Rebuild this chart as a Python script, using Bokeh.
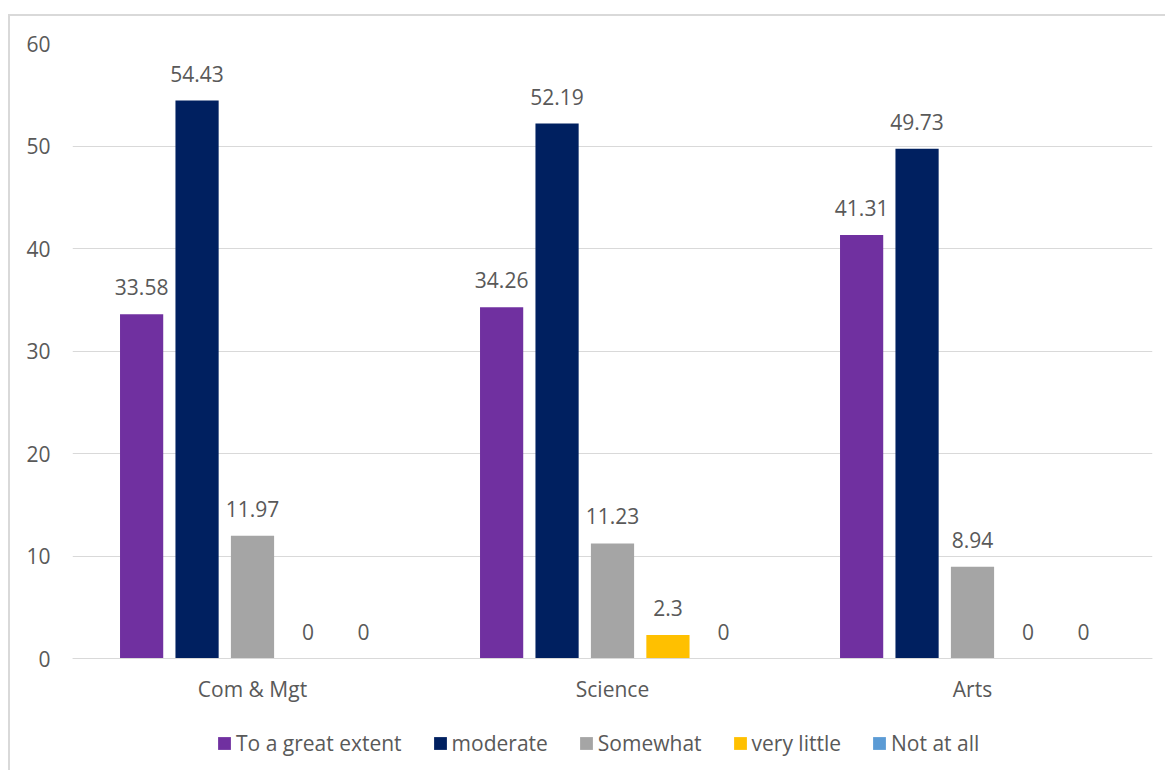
from bokeh.plotting import figure
from bokeh.models import ColumnDataSource, FactorRange, Legend, LegendItem
from bokeh.transform import dodge
from bokeh.core.properties import value
from bokeh.embed import file_html
from bokeh.resources import INLINE

categories = ["Com & Mgt", "Science", "Arts"]
series = ["To a great extent", "moderate", "Somewhat", "very little", "Not at all"]
great_extent = [33.58, 34.26, 41.31]
moderate = [54.43, 52.19, 49.73]
somewhat = [11.97, 11.23, 8.94]
very_little = [0, 2.3, 0]
not_at_all = [0, 0, 0]
y_ticks = [0, 10, 20, 30, 40, 50, 60]

colors = ["#7030A0", "#002060", "#A5A5A5", "#FFC000", "#5B9BD5"]
all_values = [great_extent, moderate, somewhat, very_little, not_at_all]
offsets = [-0.308, -0.154, 0.0, 0.154, 0.308]

FONT = "Open Sans"
TXT = "#595959"
GRID = "#d9d9d9"

# frame extends below the zero line to hold the category labels and legend
FRAME_H = 727
PX_PER_UNIT = 615 / 60
y_start = 60 - FRAME_H / PX_PER_UNIT

p = figure(x_range=FactorRange(*categories), y_range=(y_start, 60),
           frame_width=1080, frame_height=FRAME_H, output_backend="svg", toolbar_location=None,
           min_border_left=62, min_border_right=13, min_border_top=27, min_border_bottom=0)
p.styles = {"border-left": "2px solid #d9d9d9", "border-top": "2px solid #d9d9d9",
            "margin-top": "14px", "margin-left": "8px"}
p.outline_line_color = None
p.background_fill_color = "white"

items = []
for name, vals, col, off in zip(series, all_values, colors, offsets):
    src = ColumnDataSource(dict(cat=categories, val=vals, lab=[f"{v:g}" for v in vals]))
    r = p.vbar(x=dodge("cat", off, range=p.x_range), top="val", bottom=0, width=0.12, source=src,
               fill_color=col, line_color=None)
    p.text(x=dodge("cat", off, range=p.x_range), y="val", text="lab", source=src,
           text_align="center", text_baseline="middle", y_offset=-27,
           text_font=value(FONT), text_font_size="21px", text_color=TXT)
    items.append(LegendItem(label=name, renderers=[r]))

p.xgrid.grid_line_color = None
p.ygrid.grid_line_color = GRID
p.ygrid.grid_line_width = 1
p.yaxis.ticker = y_ticks
p.yaxis.axis_line_color = None
p.yaxis.major_tick_line_color = None
p.yaxis.minor_tick_line_color = None
p.yaxis.major_label_standoff = 16
p.yaxis.major_label_text_font = FONT
p.yaxis.major_label_text_font_size = "21px"
p.yaxis.major_label_text_color = TXT

p.xaxis.fixed_location = 0
p.xaxis.axis_line_color = GRID
p.xaxis.axis_line_width = 1
p.xaxis.major_tick_line_color = None
p.xaxis.minor_tick_line_color = None
p.xaxis.major_label_standoff = 10
p.xaxis.major_label_text_font = FONT
p.xaxis.major_label_text_font_size = "21px"
p.xaxis.major_label_text_color = TXT

legend = Legend(items=items, orientation="horizontal", location=(144, 12),
                glyph_width=16, glyph_height=16, label_standoff=4, spacing=30,
                padding=0, margin=0, border_line_color=None, background_fill_alpha=0,
                label_text_font=FONT, label_text_font_size="21px", label_text_color=TXT,
                label_height=30)
p.add_layout(legend, "center")

open("out.html", "w").write(file_html(p, INLINE))
